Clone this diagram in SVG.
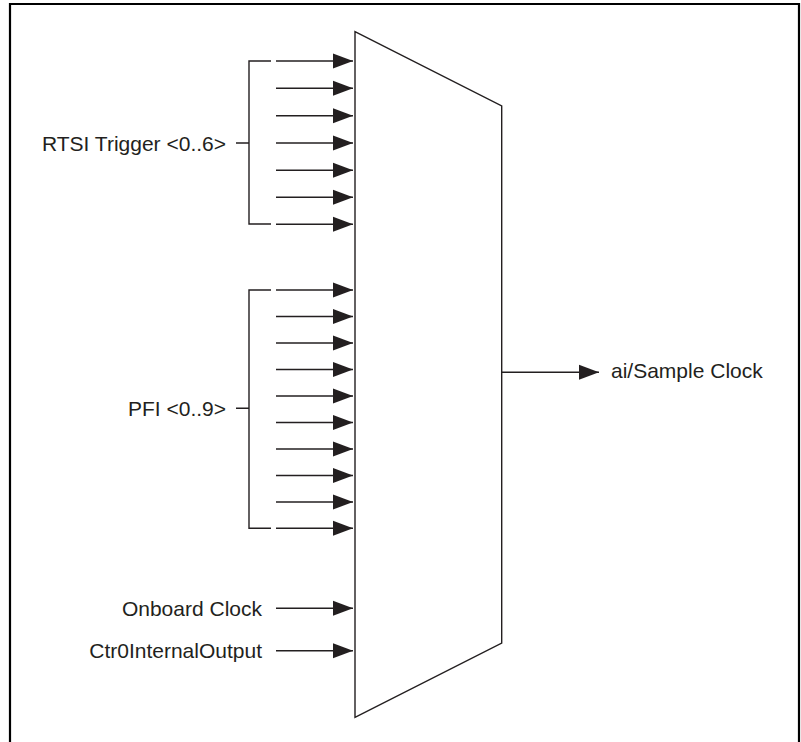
<svg xmlns="http://www.w3.org/2000/svg" width="801" height="742" viewBox="0 0 801 742">
<defs>
<style>
.ln{stroke:#231f20;stroke-width:1.4;fill:none}
.tx{font-family:"Liberation Sans",Arial,sans-serif;font-size:21px;fill:#231f20}
.ah{fill:#231f20}
</style>
<marker id="arr" markerWidth="21" markerHeight="16" refX="20" refY="8" orient="auto" markerUnits="userSpaceOnUse" overflow="visible">
<path d="M0,0.5 L20,8 L0,15.5 Z" class="ah"/>
</marker>
</defs>
<rect width="801" height="742" fill="#fff"/>
<path d="M10,742 V4 H799 V742" fill="none" stroke="#000" stroke-width="2.2"/>
<g id="mux">
<path class="ln" d="M355,31.7 L501.7,106 L501.7,643 L355,717.3 Z"/>
</g>
<g id="rtsi">
<text class="tx" x="226" y="150.7" text-anchor="end">RTSI Trigger &lt;0..6&gt;</text>
<path class="ln" d="M271,61 H249 V224 H271 M236,143 H249"/>
</g>
<g id="pfi">
<text class="tx" x="226" y="415.7" text-anchor="end">PFI &lt;0..9&gt;</text>
<path class="ln" d="M271,290 H249 V528.3 H271 M236,408.3 H249"/>
</g>
<g id="onboard">
<text class="tx" x="262" y="615.7" text-anchor="end">Onboard Clock</text>
</g>
<g id="ctr0">
<text class="tx" x="262" y="658.3" text-anchor="end">Ctr0InternalOutput</text>
</g>
<g id="output">
<text class="tx" x="611" y="378.3">ai/Sample Clock</text>
</g>
<g id="connectors">
<path class="ln" marker-end="url(#arr)" d="M276,61 H353"/>
<path class="ln" marker-end="url(#arr)" d="M276,88.3 H353"/>
<path class="ln" marker-end="url(#arr)" d="M276,115.7 H353"/>
<path class="ln" marker-end="url(#arr)" d="M276,143 H353"/>
<path class="ln" marker-end="url(#arr)" d="M276,170.2 H353"/>
<path class="ln" marker-end="url(#arr)" d="M276,197.3 H353"/>
<path class="ln" marker-end="url(#arr)" d="M276,224.3 H353"/>
<path class="ln" marker-end="url(#arr)" d="M276,290 H353"/>
<path class="ln" marker-end="url(#arr)" d="M276,316.5 H353"/>
<path class="ln" marker-end="url(#arr)" d="M276,343 H353"/>
<path class="ln" marker-end="url(#arr)" d="M276,369.5 H353"/>
<path class="ln" marker-end="url(#arr)" d="M276,396 H353"/>
<path class="ln" marker-end="url(#arr)" d="M276,422.5 H353"/>
<path class="ln" marker-end="url(#arr)" d="M276,449 H353"/>
<path class="ln" marker-end="url(#arr)" d="M276,475.5 H353"/>
<path class="ln" marker-end="url(#arr)" d="M276,502 H353"/>
<path class="ln" marker-end="url(#arr)" d="M276,528.3 H353"/>
<path class="ln" marker-end="url(#arr)" d="M276,608.3 H353"/>
<path class="ln" marker-end="url(#arr)" d="M276,650.7 H353"/>
<path class="ln" marker-end="url(#arr)" d="M501.7,372.3 H599"/>
</g>
</svg>
